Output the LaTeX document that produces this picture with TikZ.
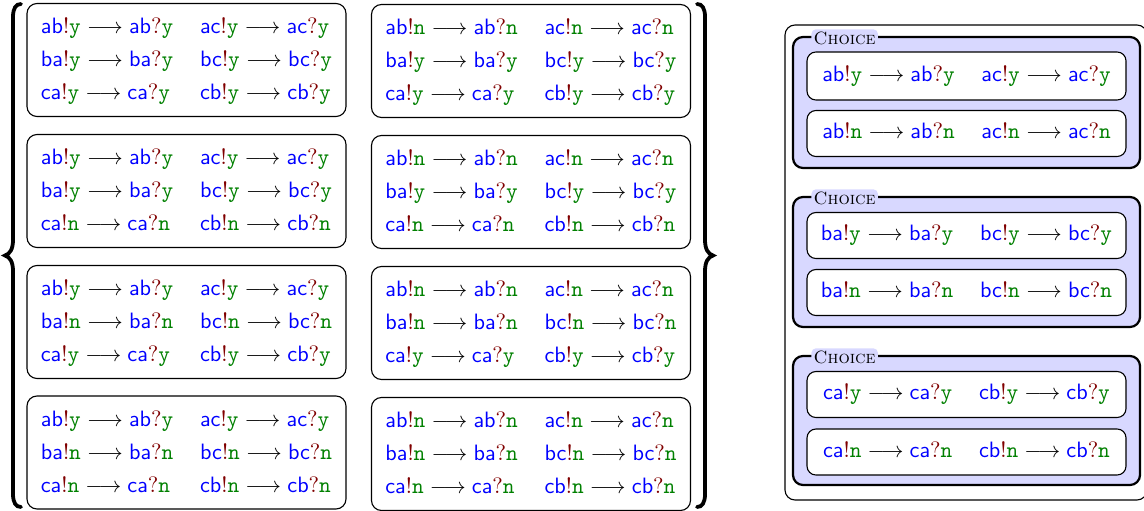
\documentclass[tikz,border=0pt]{standalone}
\usepackage{xcolor}
\definecolor{chblue}{RGB}{0,0,255}
\definecolor{opred}{RGB}{128,0,0}
\definecolor{valgreen}{RGB}{0,128,0}
\definecolor{lav}{RGB}{216,216,255}
\newcommand\chn[1]{\textcolor{chblue}{\textsf{#1}}}
\newcommand\valu[1]{\textcolor{valgreen}{\texttt{#1}}}
\newcommand\trn[2]{\chn{#1}\textcolor{opred}{!}\valu{#2}${}\longrightarrow{}$\chn{#1}\textcolor{opred}{?}\valu{#2}}
\newcommand\grp[3]{{\renewcommand{\arraystretch}{1.24}%
\begin{tabular}{@{}l@{\hspace{12pt}}l@{}}
\trn{ab}{#1} & \trn{ac}{#1}\\
\trn{ba}{#2} & \trn{bc}{#2}\\
\trn{ca}{#3} & \trn{cb}{#3}
\end{tabular}}}
\newcommand\one[3]{\begin{tabular}{@{}l@{\hspace{12pt}}l@{}}\trn{#1}{#3} & \trn{#2}{#3}\end{tabular}}
\tikzset{
  cbox/.style={draw, rounded corners=4.5pt, line width=0.5pt, inner sep=0pt,
    minimum width=319*0.45pt, minimum height=113*0.45pt},
  ibox/.style={draw, fill=white, rounded corners=4pt, line width=0.5pt, inner sep=0pt,
    minimum width=319*0.45pt, minimum height=46*0.45pt},
  choicebox/.style={draw, fill=lav, rounded corners=4.5pt, line width=1pt, inner sep=0pt,
    minimum width=347*0.45pt},
  lbl/.style={fill=lav, rounded corners=2pt, inner sep=1pt, anchor=west},
  outerbox/.style={draw, rounded corners=4.5pt, line width=0.5pt, inner sep=0pt},
  bracestroke/.style={line width=1.7pt, line cap=round}
}
\begin{document}
\begin{tikzpicture}[x=0.45pt, y=-0.45pt]
\useasboundingbox (0,0) rectangle (1144,510);
% braces
\draw[bracestroke] (21,4) .. controls (16,4) and (13,8) .. (13,17) -- (13,240)
  .. controls (13,249) and (10,254) .. (5,255.5)
  .. controls (10,257) and (13,262) .. (13,271) -- (13,494)
  .. controls (13,503) and (16,507) .. (21,507);
\draw[bracestroke] (697,4) .. controls (702,4) and (705,8) .. (705,17) -- (705,240)
  .. controls (705,249) and (708,254) .. (713,255.5)
  .. controls (708,257) and (705,262) .. (705,271) -- (705,494)
  .. controls (705,503) and (702,507) .. (697,507);
% left column
\node[cbox] (l1) at (186.5,60) {\grp{y}{y}{y}};
\node[cbox] (l2) at (186.5,191) {\grp{y}{y}{n}};
\node[cbox] (l3) at (186.5,322) {\grp{y}{n}{y}};
\node[cbox] (l4) at (186.5,452.5) {\grp{y}{n}{n}};
% right column
\node[cbox] (r1) at (531,61) {\grp{n}{y}{y}};
\node[cbox] (r2) at (531,192) {\grp{n}{y}{n}};
\node[cbox] (r3) at (531,323) {\grp{n}{n}{y}};
\node[cbox] (r4) at (531,454) {\grp{n}{n}{n}};
% right panel
\node[outerbox, minimum width=362*0.45pt, minimum height=475*0.45pt] (outer) at (966,262.5) {};
\node[choicebox, minimum height=131*0.45pt] (c1) at (966.5,102.5) {};
\node[choicebox, minimum height=130*0.45pt] (c2) at (966.5,262) {};
\node[choicebox, minimum height=129*0.45pt] (c3) at (966.5,420.5) {};
\node[lbl] (t1) at (811,38) {\footnotesize\textsc{Choice}};
\node[lbl] (t2) at (811,198) {\footnotesize\textsc{Choice}};
\node[lbl] (t3) at (811,357) {\footnotesize\textsc{Choice}};
\node[ibox, minimum height=48*0.45pt] (i1a) at (966.5,76) {\one{ab}{ac}{y}};
\node[ibox] (i1b) at (966.5,133.5) {\one{ab}{ac}{n}};
\node[ibox] (i2a) at (966.5,235.5) {\one{ba}{bc}{y}};
\node[ibox] (i2b) at (966.5,292.5) {\one{ba}{bc}{n}};
\node[ibox] (i3a) at (966.5,394.5) {\one{ca}{cb}{y}};
\node[ibox] (i3b) at (966.5,452) {\one{ca}{cb}{n}};
\end{tikzpicture}
\end{document}
